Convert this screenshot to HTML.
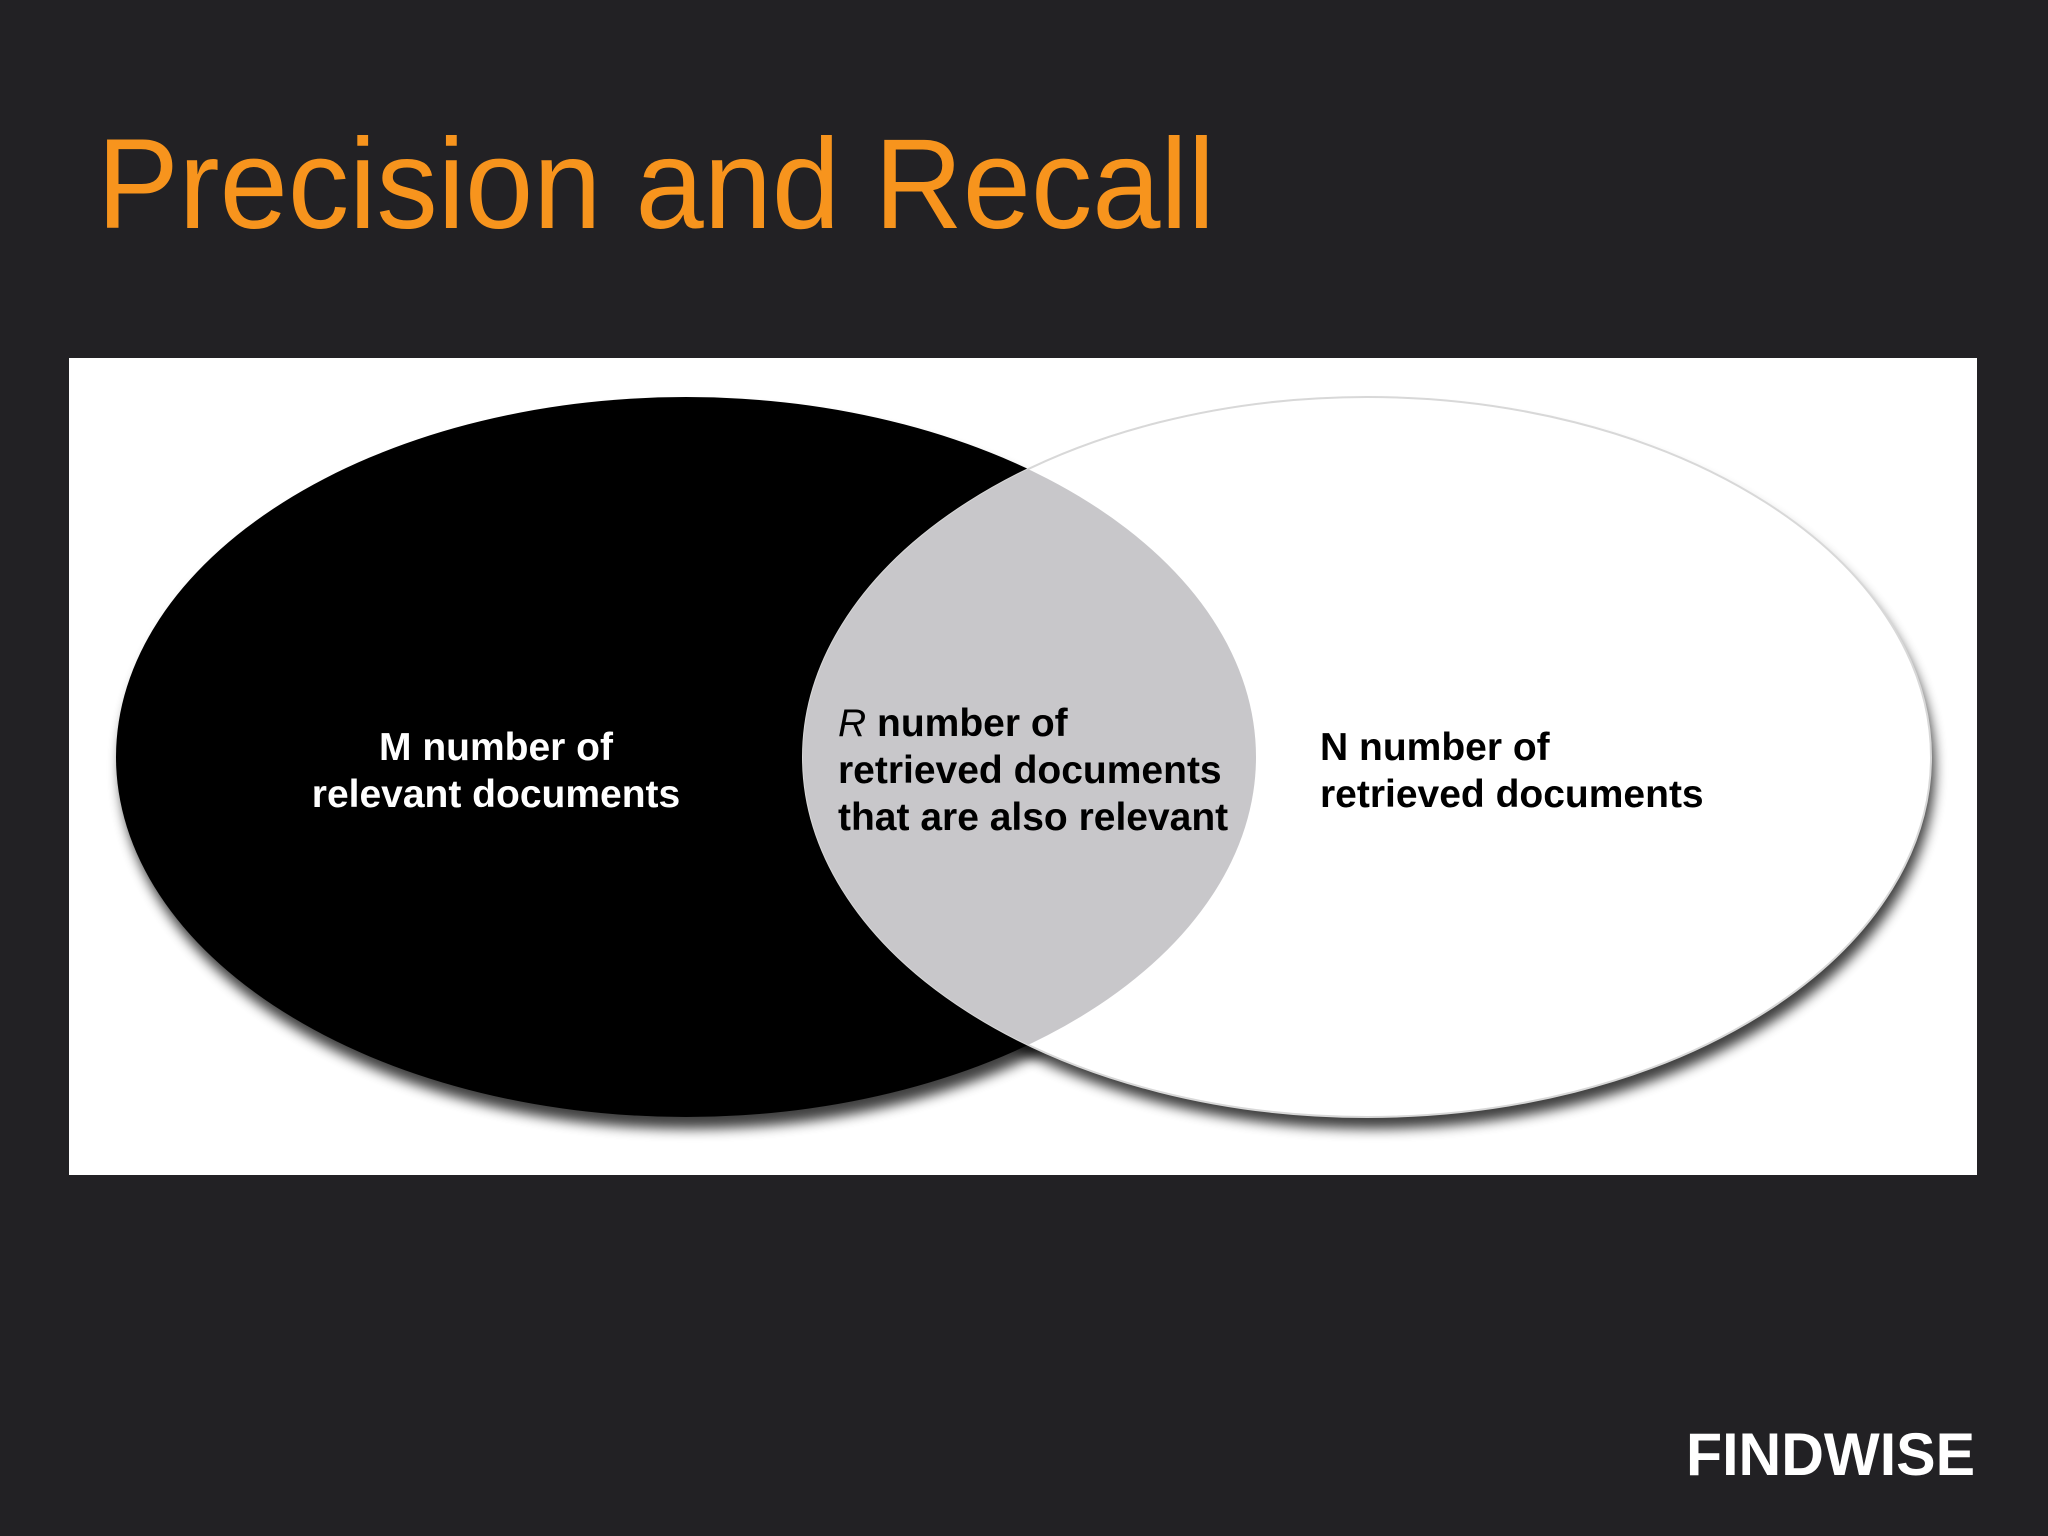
<!DOCTYPE html>
<html><head><meta charset="utf-8"><style>
html,body{margin:0;padding:0;background:#222124;}
svg{display:block}
</style></head><body>
<svg width="2048" height="1536" viewBox="0 0 2048 1536" xmlns="http://www.w3.org/2000/svg">
<defs>
<filter id="sh" x="-10%" y="-10%" width="125%" height="130%">
<feGaussianBlur in="SourceAlpha" stdDeviation="6"/>
<feOffset dx="4" dy="12" result="b"/>
<feComponentTransfer><feFuncA type="linear" slope="0.75"/></feComponentTransfer>
<feMerge><feMergeNode/><feMergeNode in="SourceGraphic"/></feMerge>
</filter>
<clipPath id="cl"><ellipse cx="686" cy="757" rx="570" ry="360"/></clipPath>
</defs>
<rect width="2048" height="1536" fill="#222124"/>
<text x="97" y="228" font-family="Liberation Sans, sans-serif" font-size="128" fill="#f7941d" textLength="1118" lengthAdjust="spacingAndGlyphs">Precision and Recall</text>
<rect x="69" y="358" width="1908" height="817" fill="#ffffff"/>
<ellipse cx="686" cy="757" rx="570" ry="360" fill="#000" filter="url(#sh)"/>
<ellipse cx="1367" cy="757" rx="564" ry="360" fill="#fff" filter="url(#sh)"/>
<ellipse cx="1367" cy="757" rx="564" ry="360" fill="none" stroke="#d8d8d8" stroke-width="2"/>
<ellipse cx="1367" cy="757" rx="564" ry="360" fill="#c8c7ca" clip-path="url(#cl)"/>
<g font-family="Liberation Sans, Arial, sans-serif" font-weight="bold" font-size="39">
<text x="496" y="760" fill="#fff" text-anchor="middle">M number of</text>
<text x="496" y="807" fill="#fff" text-anchor="middle">relevant documents</text>
<text x="838" y="736" fill="#000"><tspan font-style="italic" font-weight="normal">R</tspan> number of</text>
<text x="838" y="783" fill="#000">retrieved documents</text>
<text x="838" y="830" fill="#000">that are also relevant</text>
<text x="1320" y="760" fill="#000">N number of</text>
<text x="1320" y="807" fill="#000">retrieved documents</text>
</g>
<text x="1686" y="1475" font-family="Liberation Sans, Arial, sans-serif" font-weight="bold" font-size="60" fill="#fff" textLength="289" lengthAdjust="spacingAndGlyphs">FINDWISE</text>
</svg>
</body></html>
